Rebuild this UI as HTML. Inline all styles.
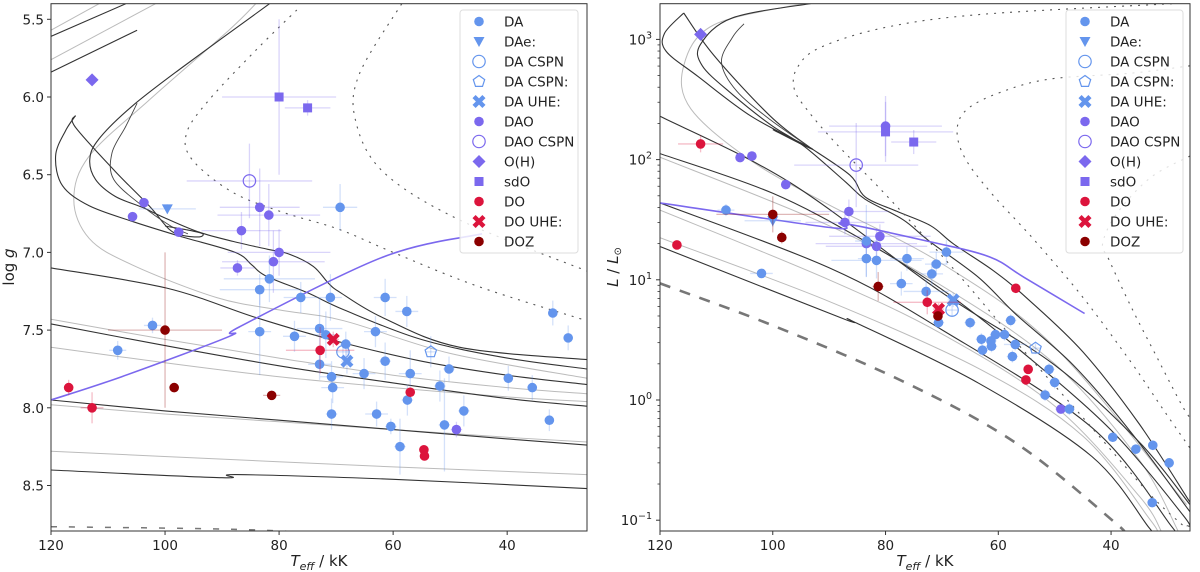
<!DOCTYPE html>
<html><head><meta charset="utf-8"><style>
html,body{margin:0;padding:0;background:#fff;}
svg{display:block;font-family:"DejaVu Sans","Liberation Sans",sans-serif;}
</style></head><body>
<svg id="fig" width="1200" height="572" viewBox="0 0 1200 572" xmlns="http://www.w3.org/2000/svg">
<defs>
<clipPath id="clipL"><rect x="51" y="3.7" width="536" height="527.3"/></clipPath>
<clipPath id="clipR"><rect x="660" y="3.7" width="530" height="527.3"/></clipPath>
</defs>
<g id="left"></g>
<g id="right"></g>
</svg>
<script>
// ---------- data: left panel (Teff kK, log g, errT, errLogg) ----------
const leftDA=[[108.3,7.63,1.5,0.06],[102.2,7.47,1.5,0.05],[83.4,7.24,7,0.1],[83.4,7.51,2,0.28],[81.7,7.17,8,0.15],[76.2,7.29,3,0.1],[77.3,7.54,2,0.1],[69.3,6.71,3,0.15],[71,7.29,2,0.15],[72.9,7.49,4,0.2],[71.8,7.53,2,0.15],[72.9,7.72,2,0.1],[70.8,7.80,2,0.1],[70.6,7.87,2,0.1],[70.8,8.04,1,0.1],[68.3,7.59,1,0.08],[61.4,7.29,2,0.12],[63.1,7.51,2,0.1],[61.4,7.70,1,0.12],[65.1,7.78,2,0.1],[62.9,8.04,2,0.08],[60.4,8.12,1,0.05],[58.8,8.25,1,0.18],[57.6,7.38,2,0.1],[57,7.78,2,0.15],[57.5,7.95,1,0.1],[51.8,7.86,1,0.1],[50.2,7.75,1,0.08],[47.6,8.02,1,0.1],[51,8.11,1,0.3],[39.8,7.81,0.8,0.08],[35.6,7.87,0.8,0.08],[32,7.39,0.8,0.08],[29.3,7.55,0.8,0.08],[32.6,8.08,0.8,0.07]];
const leftDAe=[[99.6,6.72,5,0.03]];
const leftDACSPN=[[68.8,7.64,1,0.05]];
const leftDACSPNq=[[53.4,7.64,1,0.1]];
const leftDAUHE=[[68.1,7.70,1,0.08]];
const leftDAO=[[105.7,6.77,0,0],[103.7,6.68,0,0],[97.6,6.87,0,0],[86.6,6.86,7,0.12],[83.4,6.71,7,0.25],[81.8,6.76,9,0.2],[80,7.0,9,0.15],[81,7.06,9,0.2],[87.3,7.10,3,0.05],[48.9,8.14,1,0.05]];
const leftDAOCSPN=[[85.2,6.54,11,0.24]];
const leftOH=[[112.8,5.89,0,0]];
const leftSdO=[[80,6.0,10,0.5],[75,6.07,4,0.05]];
const leftDO=[[116.9,7.87,0.5,0.05],[112.8,8.0,2,0.1],[72.8,7.63,6,0.15],[57,7.90,0.5,0.03],[54.6,8.27,0,0],[54.5,8.31,0,0]];
const leftDOUHE=[[70.5,7.56,1,0.05]];
const leftDOZ=[[100,7.5,10,0.5],[98.4,7.87,0.5,0.03],[81.3,7.92,1.5,0.02]];

// ---------- data: right panel (Teff kK, L/Lsun, errT, errLogL dex) ----------
const rightDA=[[108.3,38,1.5,0.05],[102,11.3,2,0.03],[83.4,21,2,0.3],[83.4,15,1.5,0.15],[81.6,14.5,8,0.15],[76.2,15,3,0.1],[77.2,9.3,2,0.1],[69.2,17,3,0.1],[71,13.5,2,0.1],[71.8,11.2,2,0.1],[72.8,8,4,0.1],[70.6,4.4,1,0.05],[65,4.4,1,0.05],[63,3.2,1,0.05],[62.8,2.6,1,0.05],[61.2,2.8,1,0.05],[61.3,3.1,1,0.05],[60.5,3.5,1,0.05],[58.9,3.5,1,0.05],[57.8,4.6,1,0.05],[57,2.9,2,0.05],[57.5,2.3,1,0.05],[51,1.8,1,0.05],[50,1.4,1,0.05],[51.7,1.1,1,0.05],[47.4,0.84,1,0.05],[39.7,0.49,0.8,0.04],[35.6,0.39,0.8,0.04],[32.6,0.42,0.8,0.04],[29.7,0.30,0.8,0.04],[32.7,0.14,0.8,0.04]];
const rightDAe=[[100,31,5,0.05]];
const rightDACSPN=[[68.2,5.6,1,0.05]];
const rightDACSPNq=[[53.4,2.7,1,0.05]];
const rightDAUHE=[[68,6.8,1,0.06]];
const rightDAO=[[105.8,104,0,0],[103.7,107,0,0],[97.7,62,0,0],[86.5,37,7,0.1],[87.2,30,7,0.1],[83.4,20,9,0.15],[81.6,19,9,0.15],[81,23,9,0.1],[80,190,10,0.25],[48.9,0.84,1,0.03]];
const rightDAOCSPN=[[85.2,90,11,0.35]];
const rightOH=[[112.8,1100,0,0.05]];
const rightSdO=[[80,170,12,0.25],[75,140,4,0.1]];
const rightDO=[[117,19.5,0,0],[112.8,135,4,0.07],[72.6,6.5,6,0.1],[56.9,8.5,0,0],[54.7,1.8,0,0],[55.1,1.47,0,0]];
const rightDOUHE=[[70.6,5.7,1,0.05]];
const rightDOZ=[[100,35,10,0.15],[98.4,22.5,0.5,0.05],[81.3,8.8,1,0.12],[70.7,5.0,0.5,0.03]];

// ---------- model tracks: left (Teff, log g) ----------
const lTopA=[[120,5.61],[106.9,5.40]];
const lTopB=[[120,5.57],[111.6,5.40]];
const lTopC=[[120,5.76],[101.7,5.40]];
const lTopD=[[120,5.84],[104.9,5.57]];
const lOuter=[[81.7,5.40],[97,5.81],[105.8,6.06],[111.6,6.27],[113.2,6.40],[112.2,6.53],[108.7,6.64],[104,6.71],[99.9,6.78],[94,6.87],[88,6.93],[82,6.98],[78.3,7.01],[74,7.09],[71.3,7.2],[69.2,7.26],[61.8,7.42],[48.4,7.61],[26,7.69]];
const lSpike=[[115.7,6.12],[115.8,6.19],[108.7,6.48],[102.8,6.70],[99.3,6.85],[97,6.89],[94,6.90],[93.4,6.88],[95.5,6.86],[100,6.83]];
const lLower=[[115.7,6.12],[117.5,6.22],[119.2,6.38],[118,6.57],[113.3,6.70],[105.8,6.80],[97,6.90],[87.7,7.0],[84.8,7.08],[82.4,7.15],[75,7.26],[68.6,7.37],[55.1,7.56],[40,7.68],[26,7.75]];
const lWiggle=[[104.9,6.04],[106.9,6.19],[109.3,6.36],[109,6.53],[104,6.70],[99,6.83],[96,6.88]];
const lGrey=[[84.1,5.40],[88.8,5.57],[102.8,6.02],[113.3,6.38],[116,6.66],[113.3,6.91],[105.8,7.08],[91,7.29],[80,7.37],[68.6,7.44],[50,7.65],[26,7.81]];
const lT1=[[120,7.10],[99.7,7.23],[84,7.42],[70,7.57],[55,7.70],[40,7.79],[26,7.85]];
const lT2=[[120,7.43],[100,7.56],[80,7.68],[60,7.79],[40,7.87],[26,7.91]];
const lT3=[[120,7.46],[100,7.60],[80,7.73],[60,7.84],[40,7.94],[26,7.99]];
const lT4=[[120,7.61],[100,7.71],[80,7.80],[60,7.87],[40,7.93],[26,7.96]];
const lT5=[[120,7.95],[100,8.02],[80,8.08],[60,8.14],[40,8.20],[26,8.24]];
const lT6=[[120,7.98],[100,8.04],[80,8.09],[60,8.14],[40,8.19],[26,8.22]];
const lT7=[[120,8.28],[90,8.33],[60,8.38],[26,8.43]];
const lT8=[[120,8.40],[90,8.45],[87.5,8.43],[60,8.46],[26,8.52]];
const lDash=[[120,8.765],[90,8.78],[75,8.80],[60,8.82]];
const lDot1=[[76.9,5.44],[84.1,5.70],[92.3,6.02],[96.2,6.23],[95.3,6.40],[88.3,6.61],[79.5,6.74],[69.6,6.85],[60,7.0],[45,7.22],[26,7.44]];
const lDot2=[[58.5,5.40],[65.9,5.85],[66.6,6.15],[61.8,6.48],[48.4,6.79],[26,7.12]];
const lBlue=[[120,7.95],[107.6,7.80],[88.7,7.54],[87,7.48],[61.8,7.03],[44.4,6.88]];

// ---------- model tracks: right (Teff, log L) ----------
const rT1=[[120,1.277],[87.7,0.68],[85.6,0.65],[63.5,0.14],[43.4,-0.47],[33.3,-1.06],[32.5,-1.1]];
const rT2=[[120,1.35],[90,0.82],[63,0.25],[45,-0.3],[33,-1.0],[32,-1.1]];
const rT3=[[120,1.58],[90,1.0],[70,0.55],[50,-0.05],[35,-0.8],[31,-1.1]];
const rT4=[[120,1.64],[90,1.1],[70.2,0.59],[43.4,-0.23],[29.3,-1.05],[28.8,-1.1]];
const rT5=[[120,2.02],[90,1.45],[70,0.95],[50,0.3],[35,-0.5],[28,-1.1]];
const rT6=[[120,2.05],[100,1.72],[83.6,1.32],[70,0.92],[56.8,0.44],[40,-0.25],[27.2,-0.96],[26.5,-1.05]];
const rT7=[[120,2.36],[97,1.81],[70.2,0.9],[50,0.29],[35,-0.35],[26,-0.87]];
const rOuter=[[93,3.30],[107.1,3.18],[112.8,2.96],[112.5,2.78],[107.1,2.54],[100.4,2.29],[94.4,2.11],[87,1.81],[83.6,1.67],[76.9,1.50],[72.2,1.32],[63.5,1.02],[56.8,0.71],[46.7,0.29],[36.6,-0.26],[26,-0.93]];
const rSpike=[[115.8,3.22],[119.2,3.05],[118.9,2.90],[113.2,2.69],[103.8,2.36],[93.4,2.10],[95,2.13],[100,2.25]];
const rSpike2=[[115.8,3.22],[110.5,2.87],[100.4,2.36],[93.4,2.10]];
const rBump=[[93.4,2.10],[86.3,1.87],[83.6,1.69],[78,1.57],[72,1.45],[68,1.30],[61,1.08],[55,0.85],[45,0.40],[35,-0.2],[26,-0.85]];
const rWiggle=[[105.1,3.13],[107.1,3.02],[109.1,2.81],[106.4,2.57],[100.4,2.33],[94,2.12]];
const rGrey=[[94.4,3.30],[110.5,3.12],[115.8,2.78],[114.5,2.42],[103.8,1.99],[90.3,1.63],[70.2,1.14],[50,0.44],[26.6,-0.87]];
const rDot1=[[27.8,3.30],[62.6,3.21],[80,3.10],[91.7,2.93],[95.7,2.76],[96.2,2.59],[94,2.42],[88.7,2.13],[80,1.71],[68.3,1.11],[56.8,0.48],[45.1,-0.14],[33.4,-0.77],[27.1,-1.05]];
const rDot2=[[26,2.78],[36.3,2.72],[50.9,2.67],[59.6,2.56],[65.5,2.42],[67.3,2.25],[66,2.02],[61.4,1.73],[53.8,1.34],[45.1,0.86],[36.4,0.31],[30.6,-0.09],[26,-0.4]];
const rDot3=[[26,2.03],[33,1.85],[39,1.55],[41.5,1.3],[40.4,1.17],[36.4,0.77],[31.7,0.34],[27.6,-0.03],[26,-0.15]];
const rDash=[[120,0.97],[100,0.62],[76.9,0.155],[56.8,-0.36],[39.3,-1.02],[38,-1.1]];
const rBlue=[[120,1.64],[89,1.43],[87.5,1.47],[71.5,1.31],[61.5,1.19],[55.4,1.02],[44.7,0.72]];

// ---------- tick labels / legend ----------
const loggTicks=[5.5,6.0,6.5,7.0,7.5,8.0,8.5];
const tempTicks=[120,100,80,60,40];
const lumDecades=[-1,0,1,2,3];
const legendLabels=["DA","DAe:","DA CSPN","DA CSPN:","DA UHE:","DAO","DAO CSPN","O(H)","sdO","DO","DO UHE:","DOZ"];

// ---------- scales ----------
const NS="http://www.w3.org/2000/svg";
const C_DA="#6495ED",C_DAO="#7B68EE",C_DO="#DC143C",C_DOZ="#8B0000";
const L={x0:51,x1:587,y0:3.7,y1:531,tMin:26,tMax:120};
const R={x0:660,x1:1190,y0:3.7,y1:531,tMin:26,tMax:120};
function xL(t){return L.x0+(L.tMax-t)/(L.tMax-L.tMin)*(L.x1-L.x0);}
function xR(t){return R.x0+(R.tMax-t)/(R.tMax-R.tMin)*(R.x1-R.x0);}
function yL(g){return 19.3+(g-5.5)*155.4;}
function yRlog(l){return 39.4+(3-l)*120.2;}
function yR(L_){return yRlog(Math.log10(L_));}

function mk(tag,attrs,parent){const e=document.createElementNS(NS,tag);for(const k in attrs)e.setAttribute(k,attrs[k]);parent.appendChild(e);return e;}
const gL=document.getElementById('left'),gR=document.getElementById('right');

function smoothPath(P){
  if(P.length<3)return P.map((p,i)=>(i?'L':'M')+p[0].toFixed(1)+','+p[1].toFixed(1)).join(' ');
  let d='M'+P[0][0].toFixed(1)+','+P[0][1].toFixed(1);
  for(let i=0;i<P.length-1;i++){
    const p0=P[Math.max(0,i-1)],p1=P[i],p2=P[i+1],p3=P[Math.min(P.length-1,i+2)];
    const c1=[p1[0]+(p2[0]-p0[0])/6,p1[1]+(p2[1]-p0[1])/6];
    const c2=[p2[0]-(p3[0]-p1[0])/6,p2[1]-(p3[1]-p1[1])/6];
    d+=' C'+c1[0].toFixed(1)+','+c1[1].toFixed(1)+' '+c2[0].toFixed(1)+','+c2[1].toFixed(1)+' '+p2[0].toFixed(1)+','+p2[1].toFixed(1);
  }
  return d;
}
function drawCurve(parent,pts,xf,yf,style,name){
  const P=pts.map(p=>[xf(p[0]),yf(p[1])]);
  const e=mk('path',Object.assign({d:smoothPath(P),fill:'none'},style),parent);
  
  
}
const DARK={stroke:'#333',"stroke-width":1.1};
const LIGHT={stroke:'#bbb',"stroke-width":1};
const DOT={stroke:'#555',"stroke-width":1.1,"stroke-dasharray":"2,6"};
const BLUE={stroke:'#7B68EE',"stroke-width":1.6};
const DASH={stroke:'#777',"stroke-width":2.6,"stroke-dasharray":"11,10"};

function marker(parent,shape,cx,cy,color){
  let e;
  if(shape==='o'){e=mk('circle',{cx:cx,cy:cy,r:4.8,fill:color},parent);}
  else if(shape==='v'){e=mk('polygon',{points:`${cx-5.5},${cy-4.5} ${cx+5.5},${cy-4.5} ${cx},${cy+5.5}`,fill:color},parent);}
  else if(shape==='oh'){e=mk('circle',{cx:cx,cy:cy,r:6.2,fill:'none',stroke:color,"stroke-width":1.2},parent);}
  else if(shape==='p'){let p=[];for(let i=0;i<5;i++){const a=-Math.PI/2+i*2*Math.PI/5;p.push((cx+6*Math.cos(a)).toFixed(1)+','+(cy+6*Math.sin(a)).toFixed(1));}
    e=mk('polygon',{points:p.join(' '),fill:'none',stroke:color,"stroke-width":1.2},parent);}
  else if(shape==='X'){const a=2.2,b=7;e=mk('path',{d:`M${-a},${-b}H${a}V${-a}H${b}V${a}H${a}V${b}H${-a}V${a}H${-b}V${-a}H${-a}Z`,fill:color,transform:`translate(${cx},${cy}) rotate(45)`},parent);}
  else if(shape==='D'){e=mk('polygon',{points:`${cx},${cy-6.5} ${cx+6.5},${cy} ${cx},${cy+6.5} ${cx-6.5},${cy}`,fill:color},parent);}
  else if(shape==='s'){e=mk('rect',{x:cx-4.5,y:cy-4.5,width:9,height:9,fill:color},parent);}
  return e;
}

function drawSeries(parent,pts,xf,yfc,shape,color,name,logErr){
  pts.forEach(p=>{
    const cx=xf(p[0]),cy=yfc(p[1]);
    if(p[2]>0){const l=mk('line',{x1:xf(p[0]+p[2]),x2:xf(p[0]-p[2]),y1:cy,y2:cy,stroke:color,"stroke-opacity":0.28,"stroke-width":1.3},parent);
      
      }
    if(p[3]>0){let ya,yb;
      if(logErr){const lv=Math.log10(p[1]);ya=yRlog(lv+p[3]);yb=yRlog(lv-p[3]);}else{ya=yL(p[1]-p[3]);yb=yL(p[1]+p[3]);}
      const l=mk('line',{x1:cx,x2:cx,y1:ya,y2:yb,stroke:color,"stroke-opacity":0.28,"stroke-width":1.3},parent);
      
      }
  });
  pts.forEach(p=>{
    const e=marker(parent,shape,xf(p[0]),yfc(p[1]),color);
    
    
  });
}

function panel(root,clipId,P,xf,isLeft){
  const plot=mk('g',{"clip-path":`url(#${clipId})`},root);
  
  
  const yc=isLeft?yL:yRlog;
  const curves=isLeft?
    [[lTopB,LIGHT,'track'],[lTopC,LIGHT,'track'],[lTopA,DARK,'track'],[lTopD,DARK,'track'],[lGrey,LIGHT,'track-grey'],[lT2,LIGHT,'track'],[lT4,LIGHT,'track'],[lT6,LIGHT,'track'],[lT7,LIGHT,'track'],
     [lOuter,DARK,'track-outer'],[lSpike,DARK,'track-loop'],[lLower,DARK,'track-lower'],[lWiggle,{stroke:'#444',"stroke-width":0.9},'track-wiggle'],[lT1,DARK,'track'],[lT3,DARK,'track'],[lT5,DARK,'track'],[lT8,DARK,'track'],
     [lDot1,DOT,'dotted-line'],[lDot2,DOT,'dotted-line'],[lDash,Object.assign({},DASH,{"stroke-width":1.5,"stroke-dasharray":"6,12"}),'dashed-line'],[lBlue,BLUE,'blue-line']]:
    [[rGrey,LIGHT,'track-grey'],[rT2,LIGHT,'track'],[rT3,LIGHT,'track'],[rT5,LIGHT,'track'],
     [rOuter,DARK,'track-outer'],[rSpike,DARK,'track-loop'],[rSpike2,DARK,'track-loop'],[rBump,DARK,'track-bump'],[rWiggle,{stroke:'#444',"stroke-width":0.9},'track-wiggle'],[rT1,DARK,'track'],[rT4,DARK,'track'],[rT6,DARK,'track'],[rT7,DARK,'track'],
     [rDot1,DOT,'dotted-line'],[rDot2,DOT,'dotted-line'],[rDot3,DOT,'dotted-line'],[rDash,DASH,'dashed-line'],[rBlue,BLUE,'blue-line']];
  curves.forEach(c=>drawCurve(plot,c[0],xf,yc,c[1],c[2]));
  const ser=isLeft?
    [[leftDAO,'o',C_DAO,'dao'],[leftDA,'o',C_DA,'da'],[leftDAe,'v',C_DA,'dae'],[leftDACSPN,'oh',C_DA,'da-cspn'],[leftDACSPNq,'p',C_DA,'da-cspn-uncertain'],[leftDAUHE,'X',C_DA,'da-uhe'],[leftDAOCSPN,'oh',C_DAO,'dao-cspn'],[leftOH,'D',C_DAO,'oh'],[leftSdO,'s',C_DAO,'sdo'],[leftDO,'o',C_DO,'do'],[leftDOUHE,'X',C_DO,'do-uhe'],[leftDOZ,'o',C_DOZ,'doz']]:
    [[rightDAO,'o',C_DAO,'dao'],[rightDA,'o',C_DA,'da'],[rightDAe,'v',C_DA,'dae'],[rightDACSPN,'oh',C_DA,'da-cspn'],[rightDACSPNq,'p',C_DA,'da-cspn-uncertain'],[rightDAUHE,'X',C_DA,'da-uhe'],[rightDAOCSPN,'oh',C_DAO,'dao-cspn'],[rightOH,'D',C_DAO,'oh'],[rightSdO,'s',C_DAO,'sdo'],[rightDO,'o',C_DO,'do'],[rightDOUHE,'X',C_DO,'do-uhe'],[rightDOZ,'o',C_DOZ,'doz']];
  ser.forEach(s=>drawSeries(plot,s[0],xf,isLeft?yL:yR,s[1],s[2],s[3],!isLeft));

  const fr=mk('rect',{x:P.x0,y:P.y0,width:P.x1-P.x0,height:P.y1-P.y0,fill:'none',stroke:'#333',"stroke-width":1},root);
  
  
  tempTicks.forEach(t=>{const x=xf(t);
    mk('line',{x1:x,x2:x,y1:P.y1,y2:P.y1+4,stroke:'#333'},root);
    const tx=mk('text',{x:x,y:P.y1+19,"text-anchor":"middle","font-size":13.5,fill:'#222'},root);tx.textContent=t;
    
    });
  const xt=mk('text',{x:(P.x0+P.x1)/2,y:566,"text-anchor":"middle","font-size":15,fill:'#222'},root);
  xt.innerHTML='<tspan font-style="italic">T</tspan><tspan font-style="italic" font-size="11" dy="4">eff</tspan><tspan dy="-4"> / kK</tspan>';
  
  
  if(isLeft){
    loggTicks.forEach(g=>{const y=yL(g);
      mk('line',{x1:P.x0-4,x2:P.x0,y1:y,y2:y,stroke:'#333'},root);
      const t=mk('text',{x:P.x0-7,y:y+5,"text-anchor":"end","font-size":13.5,fill:'#222'},root);t.textContent=g.toFixed(1);
      
      });
    const yt=mk('text',{x:0,y:0,"text-anchor":"middle","font-size":15,fill:'#222',transform:'translate(14,267) rotate(-90)'},root);
    yt.innerHTML='log <tspan font-style="italic">g</tspan>';
    
    
  } else {
    lumDecades.forEach(d=>{const y=yRlog(d);
      mk('line',{x1:P.x0-4,x2:P.x0,y1:y,y2:y,stroke:'#333'},root);
      const t=mk('text',{x:P.x0-8,y:y+5,"text-anchor":"end","font-size":13.5,fill:'#222'},root);
      t.innerHTML='10<tspan font-size="9.5" dy="-6">'+(d<0?'\u2212'+(-d):d)+'</tspan>';
      
      
      for(let m=2;m<10;m++){const yy=yRlog(d+Math.log10(m));if(yy>P.y0&&yy<P.y1)mk('line',{x1:P.x0-2.5,x2:P.x0,y1:yy,y2:yy,stroke:'#333',"stroke-width":0.8},root);}
    });
    const yt=mk('text',{x:0,y:0,"text-anchor":"middle","font-size":15,fill:'#222',transform:'translate(618,267) rotate(-90)'},root);
    yt.innerHTML='<tspan font-style="italic">L</tspan> / <tspan font-style="italic">L</tspan><tspan font-size="10" dy="3">\u2299</tspan>';
    
    
  }
  const lx=isLeft?460:1066, lw=isLeft?118:117;
  const lg=mk('g',{},root);
  
  
  mk('rect',{x:lx,y:10,width:lw,height:243,rx:3,fill:'#fff',"fill-opacity":0.82,stroke:'#ddd'},lg);
  const shapes=[['o',C_DA],['v',C_DA],['oh',C_DA],['p',C_DA],['X',C_DA],['o',C_DAO],['oh',C_DAO],['D',C_DAO],['s',C_DAO],['o',C_DO],['X',C_DO],['o',C_DOZ]];
  legendLabels.forEach((lab,i)=>{
    const cy=21.5+i*20;
    const ent=mk('g',{},lg);
    
    
    marker(ent,shapes[i][0],lx+19,cy,shapes[i][1]);
    const t=mk('text',{x:lx+44,y:cy+5,"font-size":13.5,fill:'#222'},ent);t.textContent=lab;
  });
}
panel(gL,'clipL',L,xL,true);
panel(gR,'clipR',R,xR,false);
</script>
</body></html>
